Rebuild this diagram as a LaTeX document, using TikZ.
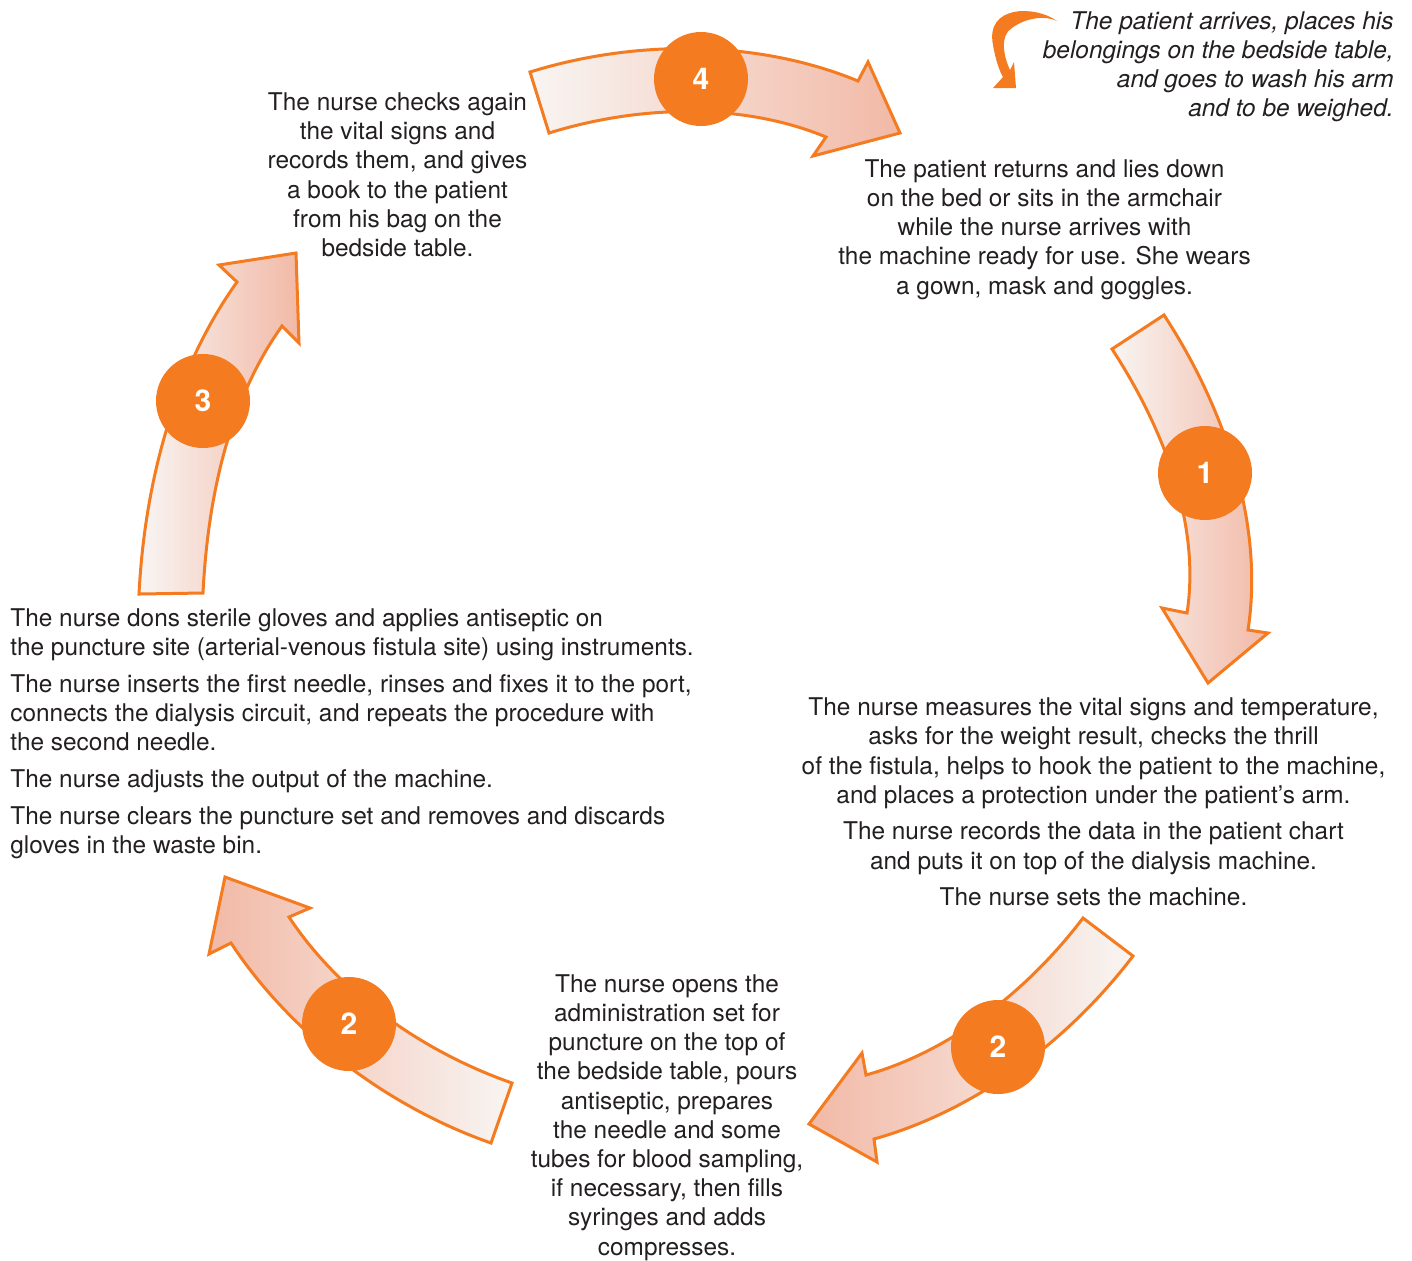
\documentclass[tikz,border=0pt]{standalone}
\usepackage{fontspec}
\setmainfont{TeX Gyre Heros}
\usepackage{tikz}

\definecolor{dialorange}{HTML}{F47B20}
\definecolor{dialink}{HTML}{231F20}
\definecolor{arrowpale}{HTML}{F8F5F3}
\definecolor{arrowsalmon}{HTML}{F2B9A6}

\begin{document}
\begin{tikzpicture}[
    x = 0.5pt,
    y = -0.5pt,
    line join = miter,
    number/.style = {circle, fill = dialorange, text = white,
      inner sep = 0pt, minimum size = {47pt},
      font = \bfseries\fontsize{15}{17}\selectfont},
    caption/.style = {inner sep = 0pt, text = dialink,
      font = \fontsize{12.2}{14.6}\selectfont},
    band/.style = {draw = dialorange, line width = 1.5pt},
    forward/.style = {band, left color = arrowpale, right color = arrowsalmon},
    backward/.style = {band, left color = arrowsalmon, right color = arrowpale},
    ]

    \useasboundingbox (0, 0) rectangle (1412, 1260);

    \draw [forward] (1112, 349) .. controls (1162, 425.6) and (1201, 522.6) .. (1187, 613)
    -- (1162, 608) -- (1208, 683) -- (1268, 633) -- (1248, 630)
    .. controls (1264.6, 522.6) and (1223.5, 406) .. (1164, 315) -- cycle;

    \draw [backward] (1083, 918) .. controls (1029, 989.1) and (952.1, 1051) .. (866, 1075)
    -- (862, 1053) -- (809, 1124) -- (877, 1162) -- (874, 1139)
    .. controls (975.9, 1110.6) and (1069.1, 1040.1) .. (1133, 956) -- cycle;

    \draw [backward] (512, 1083) .. controls (424.6, 1052.4) and (340.1, 994.4) .. (289, 917)
    -- (310, 908) -- (225, 877) -- (209, 954) -- (231, 943)
    .. controls (291.2, 1034.3) and (387.9, 1106.9) .. (491, 1143) -- cycle;

    \draw [forward] (139, 594) .. controls (144.5, 485) and (173.6, 370.6) .. (237, 282)
    -- (219, 265) -- (296, 253) -- (299, 343) -- (282, 326)
    .. controls (228, 401.4) and (207.6, 500.2) .. (203, 593) -- cycle;

    \draw [forward] (530, 72) .. controls (634.5, 39.5) and (757, 39.2) .. (858, 81)
    -- (868, 62) -- (900, 133) -- (813, 156) -- (826, 137)
    .. controls (740.7, 101.7) and (637.2, 105.6) .. (549, 133) -- cycle;

    \fill [dialorange] (1057, 21) .. controls (1035, 5) and (985, 5) .. (993, 45)
    .. controls (996, 62) and (1000, 72) .. (1003, 77)
    -- (993, 88) -- (1016, 88) -- (1014, 62) -- (1010, 70)
    .. controls (1003, 55) and (1000, 35) .. (1012, 28)
    .. controls (1025, 18) and (1045, 15) .. (1057, 21) -- cycle;

    \node at (1205, 473) [number, name = step1] {1};
    \node at (998, 1047) [number, name = step2b] {2};
    \node at (349, 1024) [number, name = step2a] {2};
    \node at (203, 401) [number, name = step3] {3};
    \node at (701, 79) [number, name = step4] {4};

    \node at (1394, 116.7) [caption, font = \itshape\fontsize{12.2}{14.6}\selectfont,
      align = right, anchor = base east, name = arrive]
    {The patient arrives, places his\\belongings on the bedside table,\\
      and goes to wash his arm\\and to be weighed.};

    \node at (1044.5, 294) [caption, align = center, anchor = base, name = liedown]
    {The patient returns and lies down\\on the bed or sits in the armchair\\
      while the nurse arrives with\\the machine ready for use. She wears\\
      a gown, mask and goggles.};

    \node at (1093.5, 905.7) [caption, align = center, anchor = base, name = measure]
    {The nurse measures the vital signs and temperature,\\
      asks for the weight result, checks the thrill\\
      of the fistula, helps to hook the patient to the machine,\\
      and places a protection under the patient’s arm.\\[3.7pt]
      The nurse records the data in the patient chart\\
      and puts it on top of the dialysis machine.\\[3.7pt]
      The nurse sets the machine.};

    \node at (667, 1255) [caption, align = center, anchor = base, name = opens]
    {The nurse opens the\\administration set for\\puncture on the top of\\
      the bedside table, pours\\antiseptic, prepares\\the needle and some\\
      tubes for blood sampling,\\if necessary, then fills\\syringes and adds\\
      compresses.};

    \node at (10, 853.3) [caption, align = left, anchor = base west, name = gloves]
    {The nurse dons sterile gloves and applies antiseptic on\\
      the puncture site (arterial-venous fistula site) using instruments.\\[3.7pt]
      The nurse inserts the first needle, rinses and fixes it to the port,\\
      connects the dialysis circuit, and repeats the procedure with\\
      the second needle.\\[3.7pt]
      The nurse adjusts the output of the machine.\\[3.7pt]
      The nurse clears the puncture set and removes and discards\\
      gloves in the waste bin.};

    \node at (397.5, 256.5) [caption, align = center, anchor = base, name = checks]
    {The nurse checks again\\the vital signs and\\records them, and gives\\
      a book to the patient\\from his bag on the\\bedside table.};
  \end{tikzpicture}
\end{document}
